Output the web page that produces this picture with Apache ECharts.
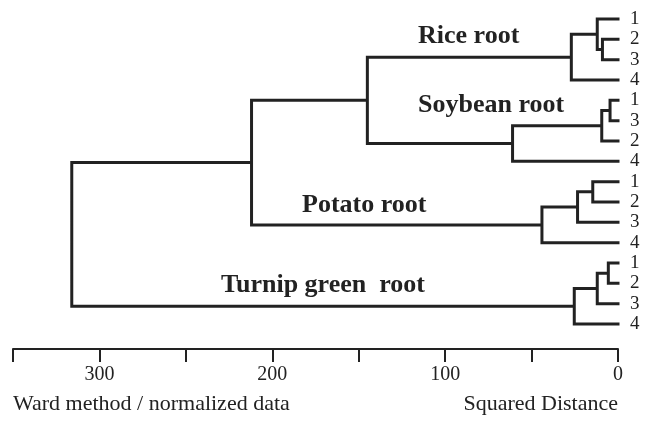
<!DOCTYPE html>
<html>
<head>
<meta charset="utf-8">
<script src="https://cdn.jsdelivr.net/npm/echarts@6/dist/echarts.min.js"></script>
<style>
  html, body { margin: 0; padding: 0; background: #fff; }
  #main { width: 651px; height: 427px; }
</style>
</head>
<body>
<div id="main"></div>
<script>
// leaf labels, top to bottom
var leafLabels = ['1', '2', '3', '4', '1', '3', '2', '4', '1', '2', '3', '4', '1', '2', '3', '4'];
// merges: node 16 + i joins mergeA[i] and mergeB[i] at mergeHeight[i]
var mergeA = [1, 0, 17, 4, 19, 20, 8, 22, 23, 12, 25, 26, 18, 28, 29];
var mergeB = [2, 16, 3, 5, 6, 7, 9, 10, 11, 13, 14, 15, 21, 24, 27];
var mergeHeight = [9, 12, 27, 4.6, 9.4, 61, 14.6, 23.4, 44, 5.6, 12, 25.3, 145, 212, 316];
var groupNames = ['Rice root', 'Soybean root', 'Potato root', 'Turnip green  root'];
var xTicks = [0, 50, 100, 150, 200, 250, 300, 350];

var font = "'Liberation Serif', 'Times New Roman', serif";

// node positions: x = height, y = leaf index (midpoint for merges)
var nodeX = [], nodeY = [];
for (var i = 0; i < leafLabels.length; i++) {
    nodeX.push(0);
    nodeY.push(i);
}
var segs = [];
for (var k = 0; k < mergeA.length; k++) {
    var a = mergeA[k], b = mergeB[k], h = mergeHeight[k];
    segs.push([nodeX[a], nodeY[a]], [h, nodeY[a]], [h, nodeY[b]], [nodeX[b], nodeY[b]], '-');
    nodeX.push(h);
    nodeY.push((nodeY[a] + nodeY[b]) / 2);
}

var myChart = echarts.init(document.getElementById('main'));

var option = {
    animation: false,
    backgroundColor: '#fff',
    grid: { left: 13, right: 33, top: 19, bottom: 103 },
    xAxis: {
        type: 'value',
        position: 'bottom',
        inverse: true,
        min: xTicks[0],
        max: xTicks[xTicks.length - 1],
        interval: 50,
        offset: 25,
        axisLine: { show: true, onZero: false, lineStyle: { color: '#222', width: 2 } },
        axisTick: { show: true, length: 13, lineStyle: { color: '#222', width: 2 } },
        splitLine: { show: false },
        axisLabel: {
            margin: 16,
            color: '#222',
            fontFamily: font,
            fontSize: 20,
            showMinLabel: true,
            showMaxLabel: true,
            formatter: function (v) { return v % 100 === 0 ? String(v) : ''; }
        }
    },
    yAxis: {
        type: 'value',
        inverse: true,
        position: 'right',
        min: 0,
        max: leafLabels.length - 1,
        interval: 1,
        axisLine: { show: false },
        axisTick: { show: false },
        splitLine: { show: false },
        axisLabel: {
            margin: 12,
            color: '#222',
            fontFamily: font,
            fontSize: 19,
            formatter: function (v) { return leafLabels[v] || ''; }
        }
    },
    graphic: [
        { type: 'text', left: 418, top: 23, style: { text: groupNames[0], font: 'bold 26px ' + font, fill: '#222' } },
        { type: 'text', left: 418, top: 92, style: { text: groupNames[1], font: 'bold 26px ' + font, fill: '#222' } },
        { type: 'text', left: 302, top: 192, style: { text: groupNames[2], font: 'bold 26px ' + font, fill: '#222' } },
        { type: 'text', left: 221, top: 272, style: { text: groupNames[3], font: 'bold 26px ' + font, fill: '#222', whiteSpace: 'pre' } },
        { type: 'text', left: 13, top: 393, style: { text: 'Ward method / normalized data', font: '22px ' + font, fill: '#222' } },
        { type: 'text', right: 33, top: 393, style: { text: 'Squared Distance', font: '22px ' + font, fill: '#222' } }
    ],
    series: [{
        type: 'line',
        data: segs,
        symbol: 'none',
        clip: false,
        connectNulls: false,
        lineStyle: { color: '#222', width: 3, cap: 'square', join: 'miter' }
    }]
};

myChart.setOption(option);
</script>
</body>
</html>
